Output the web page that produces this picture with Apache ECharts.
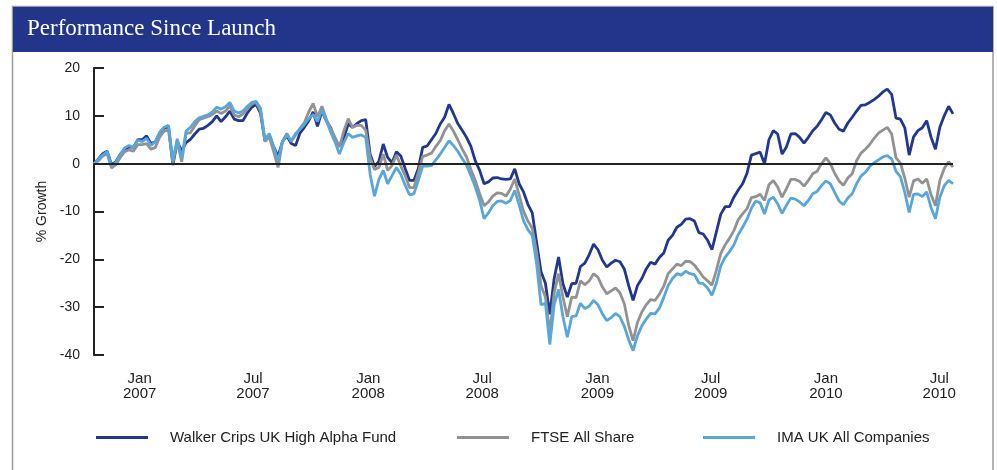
<!DOCTYPE html>
<html>
<head>
<meta charset="utf-8">
<title>Performance Since Launch</title>
<script src="https://cdn.jsdelivr.net/npm/echarts@6/dist/echarts.min.js"></script>
<style>
  html, body { margin: 0; padding: 0; background: #fff; }
  #chart { width: 997px; height: 470px; }
</style>
</head>
<body>
<div id="chart"></div>
<script>
// weekly dates (Fridays)
const dates = [
  '2006-10-20','2006-10-27','2006-11-03','2006-11-10','2006-11-17','2006-11-24','2006-12-01','2006-12-08','2006-12-15','2006-12-22','2006-12-29',
  '2007-01-05','2007-01-12','2007-01-19','2007-01-26','2007-02-02','2007-02-09','2007-02-16','2007-02-23','2007-03-02','2007-03-09','2007-03-16','2007-03-23','2007-03-30',
  '2007-04-06','2007-04-13','2007-04-20','2007-04-27','2007-05-04','2007-05-11','2007-05-18','2007-05-25','2007-06-01','2007-06-08','2007-06-15','2007-06-22','2007-06-29',
  '2007-07-06','2007-07-13','2007-07-20','2007-07-27','2007-08-03','2007-08-10','2007-08-17','2007-08-24','2007-08-31','2007-09-07','2007-09-14','2007-09-21','2007-09-28',
  '2007-10-05','2007-10-12','2007-10-19','2007-10-26','2007-11-02','2007-11-09','2007-11-16','2007-11-23','2007-11-30','2007-12-07','2007-12-14','2007-12-21','2007-12-28',
  '2008-01-04','2008-01-11','2008-01-18','2008-01-25','2008-02-01','2008-02-08','2008-02-15','2008-02-22','2008-02-29','2008-03-07','2008-03-14','2008-03-21','2008-03-28',
  '2008-04-04','2008-04-11','2008-04-18','2008-04-25','2008-05-02','2008-05-09','2008-05-16','2008-05-23','2008-05-30','2008-06-06','2008-06-13','2008-06-20','2008-06-27',
  '2008-07-04','2008-07-11','2008-07-18','2008-07-25','2008-08-01','2008-08-08','2008-08-15','2008-08-22','2008-08-29','2008-09-05','2008-09-12','2008-09-19','2008-09-26',
  '2008-10-03','2008-10-10','2008-10-17','2008-10-24','2008-10-31','2008-11-07','2008-11-14','2008-11-21','2008-11-28','2008-12-05','2008-12-12','2008-12-19','2008-12-26',
  '2009-01-02','2009-01-09','2009-01-16','2009-01-23','2009-01-30','2009-02-06','2009-02-13','2009-02-20','2009-02-27','2009-03-06','2009-03-13','2009-03-20','2009-03-27',
  '2009-04-03','2009-04-10','2009-04-17','2009-04-24','2009-05-01','2009-05-08','2009-05-15','2009-05-22','2009-05-29','2009-06-05','2009-06-12','2009-06-19','2009-06-26',
  '2009-07-03','2009-07-10','2009-07-17','2009-07-24','2009-07-31','2009-08-07','2009-08-14','2009-08-21','2009-08-28','2009-09-04','2009-09-11','2009-09-18','2009-09-25',
  '2009-10-02','2009-10-09','2009-10-16','2009-10-23','2009-10-30','2009-11-06','2009-11-13','2009-11-20','2009-11-27','2009-12-04','2009-12-11','2009-12-18','2009-12-25',
  '2010-01-01','2010-01-08','2010-01-15','2010-01-22','2010-01-29','2010-02-05','2010-02-12','2010-02-19','2010-02-26','2010-03-05','2010-03-12','2010-03-19','2010-03-26',
  '2010-04-02','2010-04-09','2010-04-16','2010-04-23','2010-04-30','2010-05-07','2010-05-14','2010-05-21','2010-05-28','2010-06-04','2010-06-11','2010-06-18','2010-06-25',
  '2010-07-02','2010-07-09','2010-07-16','2010-07-23'
]

const fund = [
  0, 1.0, 2.1, 2.6, -0.2, 0.4, 2.0, 3.0, 3.5, 3.4, 5.0,
  5.0, 5.8, 4.2, 4.6, 6.4, 7.4, 7.8, -0.3, 4.6, 2.7, 4.4, 5.1, 6.2,
  7.2, 7.4, 8.0, 8.8, 10.0, 8.8, 9.8, 11.0, 9.3, 9.0, 9.0, 10.6, 11.8,
  12.4, 10.5, 4.8, 6.0, 3.5, 1.5, 4.6, 5.8, 4.2, 3.8, 6.4, 7.6, 9.0,
  10.8, 7.8, 11.0, 9.0, 7.5, 5.0, 3.6, 5.4, 8.3, 7.6, 8.4, 9.0, 9.2,
  2.0, -0.6, 0.5, 4.1, 1.3, 0.2, 2.5, 1.6, -1.0, -3.5, -3.5, -1.0, 3.4,
  3.7, 5.0, 6.3, 8.3, 9.7, 12.4, 10.5, 8.4, 7.0, 5.5, 3.6, 0.6, -1.4,
  -4.2, -3.8, -3.0, -2.9, -3.2, -3.3, -3.2, -1.1, -4.2, -5.9, -8.5, -10.3, -16.5,
  -22.6, -25.0, -31.5, -24.0, -19.5, -25.1, -27.9, -25.1, -25.0, -21.5, -20.8, -19.0, -16.8,
  -18.0, -20.2, -21.6, -20.8, -20.2, -20.5, -22.0, -25.5, -28.6, -25.5, -24.0, -22.0, -20.6,
  -21.0, -19.6, -18.7, -16.0, -15.0, -13.3, -12.7, -11.6, -11.5, -12.0, -14.4, -14.7, -16.0,
  -18.0, -14.3, -10.6, -9.0, -9.0, -7.0, -5.5, -4.2, -2.0, 1.8, 2.1, 2.4, 0.0,
  5.0, 6.9, 6.2, 2.0, 3.5, 6.2, 6.3, 5.5, 4.3, 5.5, 6.9, 7.8, 9.2,
  10.7, 10.2, 8.5, 7.2, 6.8, 8.5, 9.7, 11.0, 12.2, 12.3, 12.8, 13.4, 14.1,
  15.0, 15.6, 14.5, 9.5, 9.3, 7.5, 1.8, 5.6, 6.9, 7.5, 9.0, 5.5, 3.0,
  7.6, 10.0, 12.0, 10.4
]

const ftse = [
  0, 0.6, 1.6, 2.1, -0.9, -0.2, 1.3, 2.5, 2.9, 2.6, 4.0,
  4.0, 4.2, 3.0, 3.4, 5.6, 6.8, 7.0, 0.2, 4.8, 0.4, 6.3, 6.5, 7.9,
  9.2, 9.5, 9.8, 10.3, 11.0, 10.5, 11.0, 12.1, 10.2, 9.8, 10.4, 11.4, 12.5,
  12.8, 11.0, 4.6, 5.6, 2.5, -0.8, 4.6, 6.3, 4.6, 6.0, 7.4, 8.6, 10.8,
  12.6, 9.8, 12.0, 9.4, 7.3, 5.5, 3.5, 6.8, 9.4, 7.6, 8.0, 8.0, 7.0,
  1.3, -1.2, -0.8, 2.0, -1.4, -0.4, 1.8, -0.5, -2.5, -5.0, -5.0, -1.8, 1.5,
  1.8, 2.2, 3.6, 4.8, 6.9, 8.3, 6.8, 5.0, 3.1, 1.4, -1.2, -3.5, -6.3,
  -8.8, -8.0, -6.8, -6.1, -6.2, -6.8, -5.3, -3.2, -6.5, -9.9, -12.0, -13.5, -18.5,
  -25.5, -27.9, -35.5, -27.0, -23.0, -27.9, -32.0, -27.9, -28.0, -24.5, -25.3, -24.5, -23.0,
  -23.8, -25.8, -27.2, -26.6, -26.0, -27.0, -29.3, -33.8, -37.0, -33.2, -31.0, -29.5, -28.4,
  -28.6, -27.3, -25.6, -23.0, -22.0, -21.0, -21.3, -20.4, -20.5, -21.2, -22.4, -23.7, -24.5,
  -25.4, -22.3, -18.8, -17.0, -15.6, -14.0, -11.7, -10.5, -9.4, -7.1, -6.9, -6.4, -7.7,
  -4.4, -3.5, -4.9, -7.0, -5.2, -3.3, -3.3, -3.7, -4.7, -3.5, -2.1, -1.6, 0.0,
  1.2, 0.0, -2.0, -3.6, -4.5, -3.0, -2.1, 0.6, 2.2, 3.0, 4.0, 5.3, 6.4,
  7.0, 7.6, 6.2, 1.2, 0.1, -3.0, -7.0, -3.6, -3.2, -4.1, -3.2, -6.5, -8.8,
  -3.5, -1.0, 0.4, -0.7
]

const ima = [
  0, 0.9, 1.8, 2.5, -0.5, 0.3, 1.9, 3.3, 3.8, 3.4, 4.9,
  4.6, 5.3, 3.8, 4.6, 6.6, 7.6, 8.0, 0.6, 5.2, 0.9, 6.8, 7.6, 8.8,
  9.6, 9.9, 10.2, 10.8, 11.8, 11.4, 11.9, 12.8, 11.0, 10.6, 11.0, 12.0, 12.8,
  13.0, 11.6, 5.0, 6.3, 3.5, 0.5, 4.6, 6.0, 4.8, 6.3, 7.2, 8.2, 9.4,
  10.3, 8.8, 11.2, 9.0, 6.6, 4.5, 2.0, 4.4, 6.3, 5.5, 5.8, 6.0, 5.5,
  -2.2, -6.8, -3.3, -1.4, -4.2, -2.5, -0.8, -2.2, -4.5, -6.5, -6.3, -3.5, -0.5,
  -0.5, -0.4, 0.8, 2.0, 3.4, 4.8, 3.8, 2.6, 1.1, -0.3, -2.5, -4.9, -7.7,
  -11.5, -10.3, -8.8, -7.9, -7.8, -8.3, -7.7, -5.6, -8.6, -11.9, -13.8, -15.0, -21.0,
  -29.5, -29.2, -37.8, -29.5, -26.3, -32.0, -36.3, -32.0, -31.8, -29.2, -30.3, -29.8, -28.6,
  -29.5, -31.4, -32.8, -32.2, -31.3, -32.0, -34.0, -36.8, -39.1, -36.0, -33.9, -32.5, -31.3,
  -31.4, -30.2, -28.0, -25.5, -24.0, -23.0, -23.3, -22.5, -23.0, -23.2, -24.9, -25.1, -26.0,
  -27.5, -25.0, -21.4, -19.6, -18.4, -17.0, -14.8, -13.3, -11.6, -9.3, -7.8, -8.2, -10.5,
  -7.6, -7.0, -8.4, -10.4, -8.7, -7.2, -7.4, -8.0, -8.8, -7.7, -6.3, -5.8, -4.6,
  -3.6, -4.2, -6.0, -7.8, -8.6, -7.2, -6.3, -4.2, -2.6, -1.8, -0.6, 0.2, 0.8,
  1.4, 1.7, 1.0, -1.6, -2.7, -6.0, -10.2, -6.4, -6.3, -6.9, -5.9, -9.2, -11.5,
  -7.0, -4.6, -3.5, -4.2
]

const seriesNames = ['Walker Crips UK High Alpha Fund', 'FTSE All Share', 'IMA UK All Companies']
const seriesColors = ['#22388f', '#929292', '#58a6da']
const xTickDates = ['2007-01-01', '2007-07-01', '2008-01-01', '2008-07-01', '2009-01-01', '2009-07-01', '2010-01-01', '2010-07-01']
const monthNames = ['Jan', 'Feb', 'Mar', 'Apr', 'May', 'Jun', 'Jul', 'Aug', 'Sep', 'Oct', 'Nov', 'Dec']

const toTime = (d) => +echarts.time.parse(d)
const toPairs = (vals) => dates.map((d, i) => [toTime(d), vals[i]])
const font = '"Liberation Sans", Arial, Helvetica, sans-serif'

const legendAt = (name, left) => {
  return {
    left: left,
    top: 425,
    icon: 'rect',
    itemWidth: 52,
    itemHeight: 3,
    selectedMode: false,
    data: [name],
    textStyle: {
      fontFamily: font,
      fontSize: 15,
      color: '#222',
      padding: [0, 0, 0, 17]
    }
  }
}

const chart = echarts.init(document.getElementById('chart'))

const option = {
  animation: false,
  backgroundColor: '#fff',
  textStyle: { fontFamily: font },
  graphic: [
    {
      type: 'rect',
      z: -10,
      shape: { x: 12.5, y: 6.5, width: 980.5, height: 480 },
      style: { fill: '#fff', stroke: '#9a9a9a', lineWidth: 1.5 }
    },
    {
      type: 'rect',
      z: -9,
      shape: { x: 13, y: 7, width: 980, height: 45 },
      style: { fill: '#22358a' }
    },
    {
      type: 'text',
      left: 27,
      top: 17,
      style: {
        text: 'Performance Since Launch',
        fill: '#fff',
        font: '23px "Liberation Serif", "Times New Roman", serif'
      }
    }
  ],
  legend: [
    legendAt(seriesNames[0], 91),
    legendAt(seriesNames[1], 452),
    legendAt(seriesNames[2], 698)
  ],
  grid: {
    left: 94,
    right: 44,
    top: 68,
    bottom: 115
  },
  xAxis: {
    type: 'value',
    min: toTime(dates[0]),
    max: toTime(dates[dates.length - 1]),
    axisLine: { show: false },
    axisTick: { show: false },
    splitLine: { show: false },
    axisLabel: {
      customValues: xTickDates.map(toTime),
      margin: 16,
      fontSize: 15,
      lineHeight: 15,
      color: '#222',
      formatter: (val) => {
        const d = new Date(val)
        return monthNames[d.getMonth()] + '\n' + d.getFullYear()
      }
    }
  },
  yAxis: {
    type: 'value',
    min: -40,
    max: 20,
    interval: 10,
    name: '% Growth',
    nameLocation: 'middle',
    nameGap: 33,
    nameTextStyle: { fontSize: 14, color: '#222' },
    axisLine: { show: true, lineStyle: { color: '#222', width: 2 } },
    axisTick: { show: true, inside: true, length: 10, lineStyle: { color: '#222', width: 2 } },
    splitLine: { show: false },
    axisLabel: { fontSize: 14, color: '#222', margin: 14 }
  },
  series: [
    {
      name: seriesNames[0],
      type: 'line',
      showSymbol: false,
      color: seriesColors[0],
      lineStyle: { width: 2.8 },
      data: toPairs(fund),
      markLine: {
        silent: true,
        symbol: 'none',
        label: { show: false },
        lineStyle: { color: '#222', width: 2, type: 'solid' },
        data: [{ yAxis: 0 }]
      }
    },
    {
      name: seriesNames[1],
      type: 'line',
      showSymbol: false,
      color: seriesColors[1],
      lineStyle: { width: 2.8 },
      data: toPairs(ftse)
    },
    {
      name: seriesNames[2],
      type: 'line',
      showSymbol: false,
      color: seriesColors[2],
      lineStyle: { width: 2.8 },
      data: toPairs(ima)
    }
  ]
}

chart.setOption(option)
</script>
</body>
</html>
